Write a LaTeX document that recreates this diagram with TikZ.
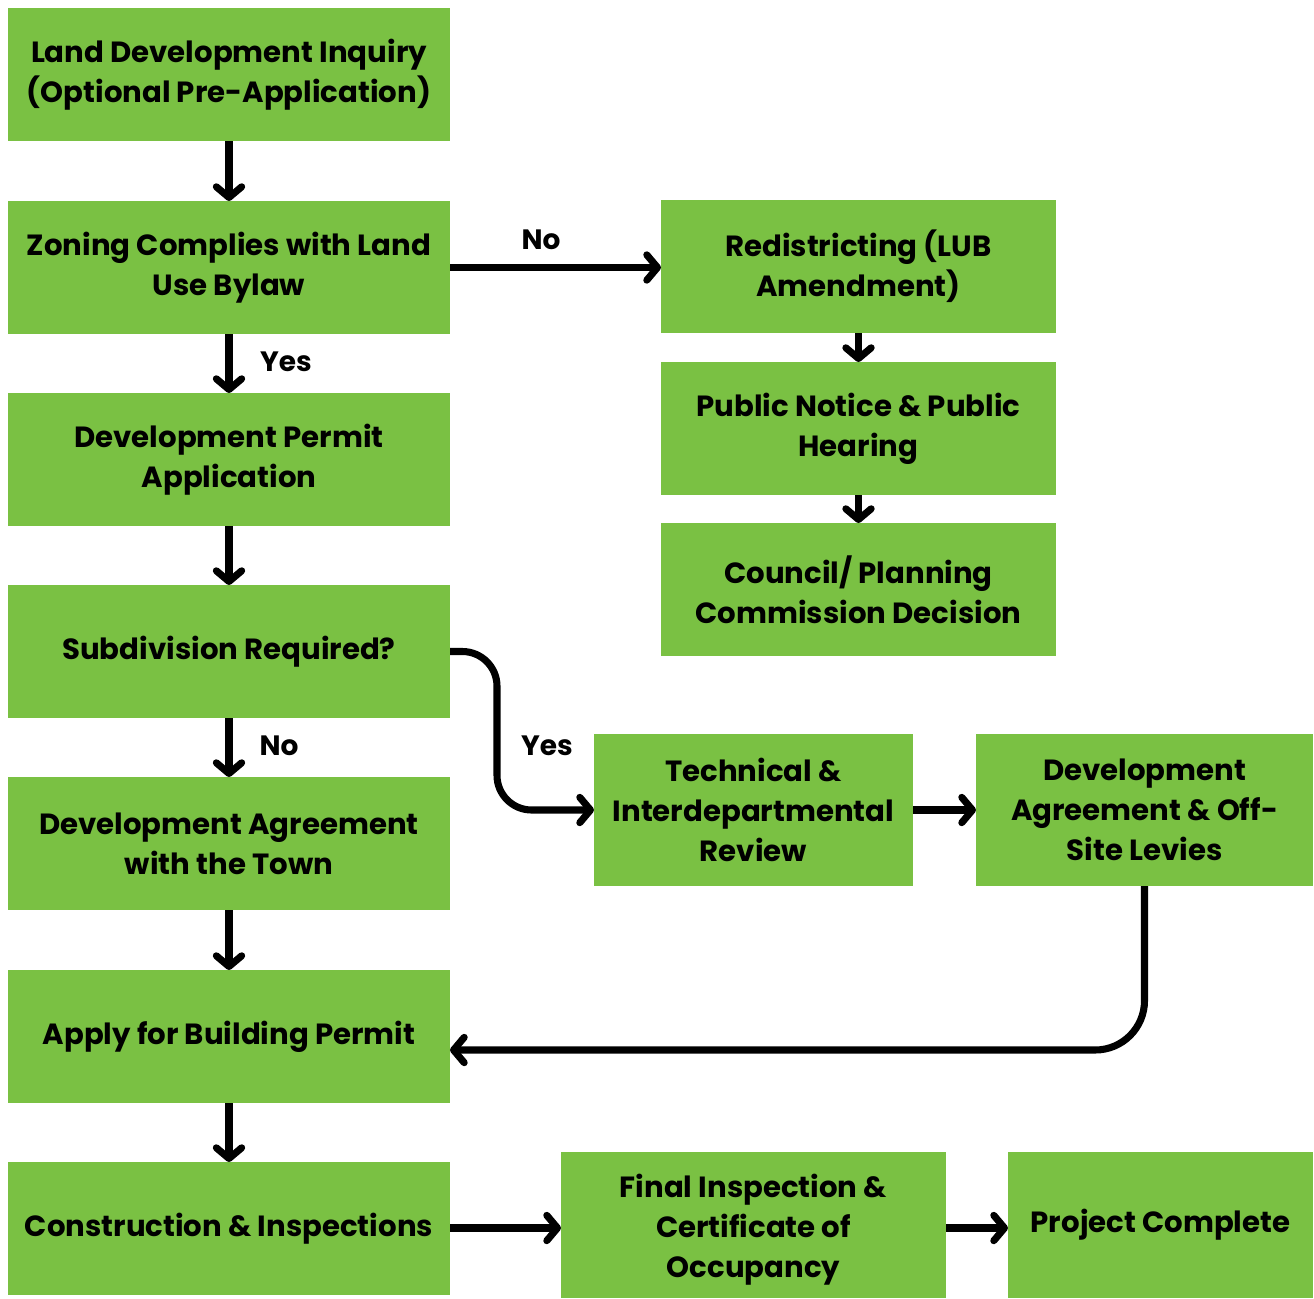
\documentclass[tikz,border=0pt]{standalone}
\usepackage{fontspec}
\setmainfont{Poppins}
\usetikzlibrary{arrows.meta}
\definecolor{boxgreen}{HTML}{7AC143}
\tikzset{
  box/.style={fill=boxgreen, inner sep=0pt, outer sep=0pt, align=center,
    font=\fontsize{21.9}{30}\selectfont\bfseries},
  lbox/.style={box, minimum width=331.5pt, minimum height=99.75pt},
  rbox/.style={box, minimum width=296.25pt, minimum height=99.75pt},
  arr/.style={line width=5.3pt, -{Straight Barb[length=8pt,width=19pt,round]}},
  lbl/.style={font=\fontsize{21}{24}\selectfont\bfseries, inner sep=0pt}
}
\begin{document}
\begin{tikzpicture}[x=0.75pt, y=-0.75pt]
\useasboundingbox (0,0) rectangle (1314,1299);
\node[lbox] (n1) at (229,74.5) {Land Development Inquiry\\(Optional Pre-Application)};
\node[lbox] (n2) at (229,267.5) {Zoning Complies with Land\\Use Bylaw};
\node[lbox] (n3) at (229,459.5) {Development Permit\\Application};
\node[lbox] (n4) at (229,651.5) {Subdivision Required?};
\node[lbox] (n5) at (229,843.5) {Development Agreement\\with the Town};
\node[lbox] (n6) at (229,1036.5) {Apply for Building Permit};
\node[lbox] (n7) at (229,1228.5) {Construction \& Inspections};
\node[rbox] (r1) at (858.5,266.5) {Redistricting (LUB\\Amendment)};
\node[rbox] (r2) at (858.5,428.5) {Public Notice \& Public\\Hearing};
\node[rbox] (r3) at (858.5,589.5) {Council/ Planning\\Commission Decision};
\node[box, minimum width=239.25pt, minimum height=114pt] (tech) at (753.5,810) {Technical \&\\Interdepartmental\\Review};
\node[box, minimum width=252.75pt, minimum height=114pt] (dev) at (1144.5,810) {Development\\Agreement \& Off-\\Site Levies};
\node[box, minimum width=288.75pt, minimum height=109.5pt] (fin) at (753.5,1225) {\\[-6pt]Final Inspection \&\\Certificate of\\Occupancy};
\node[box, minimum width=228.75pt, minimum height=109.5pt] (proj) at (1160.5,1225) {Project Complete};
\coordinate (n6in) at (450,1050);
\coordinate (n7out) at (450,1228);
\coordinate (finin) at (561,1228);
\coordinate (finout) at (946,1228);
\coordinate (projin) at (1008,1228);

\draw[arr] (n1) -- (n2);
\draw[arr] (n2) -- (n3);
\draw[arr] (n3) -- (n4);
\draw[arr] (n4) -- (n5);
\draw[arr] (n5) -- (n6);
\draw[arr] (n6) -- (n7);
\draw[arr] (n2.east) -- (r1.west |- n2.east);
\draw[arr] (r1) -- (r2);
\draw[arr] (r2) -- (r3);
\draw[arr, rounded corners=26pt] (n4.east) -- ++(47,0) |- (tech.west);
\draw[arr] (tech) -- (dev);
\draw[arr, rounded corners=37pt] (dev.south) |- (n6in);
\draw[arr] (n7out) -- (finin);
\draw[arr] (finout) -- (projin);

\node[lbl] (lno1) at (541,240) {No};
\node[lbl] (lyes1) at (286,362) {Yes};
\node[lbl] (lno2) at (279,746) {No};
\node[lbl] (lyes2) at (547,746) {Yes};
\end{tikzpicture}
\end{document}
